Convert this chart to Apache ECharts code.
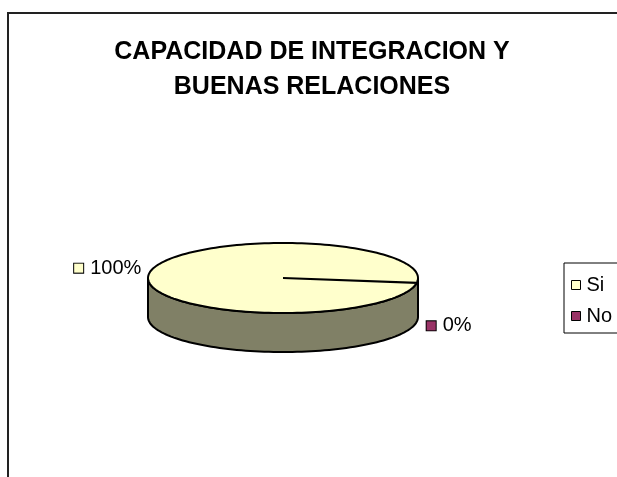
<!DOCTYPE html>
<html>
<head>
<meta charset="utf-8">
<script src="https://cdn.jsdelivr.net/npm/echarts@6/dist/echarts.min.js"></script>
<style>
  html, body { margin: 0; padding: 0; background: #fff; }
  #main { width: 617px; height: 477px; }
</style>
</head>
<body>
<div id="main"></div>
<script>
// datos del grafico
const categories = ['Si', 'No'];
const values = [100, 0];
const colors = ['#FFFFCC', '#993366'];
const sideColors = ['#808066', '#4D1A33'];

// geometria del pastel 3d (elipse)
const CX = 283, CY = 278, RX = 135, RY = 35, DEPTH = 39, START = 8;
const FONT = 'Liberation Sans, Arial, sans-serif';

const total = values.reduce((a, b) => a + b, 0);
const rad = d => d * Math.PI / 180;
const pt = (deg, dy) => [CX + RX * Math.cos(rad(deg)), CY + RY * Math.sin(rad(deg)) + (dy || 0)];

const arc = (a, b, dy) => {
    let pts = [];
    let n = Math.max(2, Math.ceil(Math.abs(b - a) / 2));
    for (let i = 0; i <= n; i++) {
        pts.push(pt(a + (b - a) * i / n, dy));
    }
    return pts;
};

// partes frontales visibles del lateral
const frontPieces = (a0, a1) => {
    if (a1 - a0 >= 360) return [[0, 180]];
    let out = [];
    [-360, 0, 360].forEach(k => {
        let s = Math.max(a0, k), e = Math.min(a1, k + 180);
        if (e > s) out.push([s, e]);
    });
    return out;
};

const renderItem = (params, api) => {
    let idx = params.seriesIndex;
    let v = api.value(0);
    let before = values.slice(0, idx).reduce((a, b) => a + b, 0);
    let a0 = START + before / total * 360;
    let a1 = a0 + v / total * 360;
    let children = [];
    if (v > 0) {
        frontPieces(a0, a1).forEach(([s, e]) => {
            let pts = arc(s, e, 0).concat(arc(e, s, DEPTH));
            children.push({
                type: 'polygon',
                shape: {points: pts},
                style: {fill: sideColors[idx], stroke: '#000', lineWidth: 2}
            });
        });
        children.push({
            type: 'polygon',
            shape: {points: [[CX, CY]].concat(arc(a0, a1, 0))},
            style: {fill: colors[idx], stroke: '#000', lineWidth: 2}
        });
    }
    // etiqueta
    let mid = (a0 + a1) / 2;
    let front = Math.sin(rad(mid)) > 0;
    let p = pt(mid, front ? DEPTH : 0);
    let left = Math.cos(rad(mid)) < 0;
    let pct = Math.round(v / total * 100) + '%';
    children.push({
        type: 'text',
        style: {
            text: '{sq|}{g|}{t|' + pct + '}',
            x: left ? p[0] - 8 : p[0] + 10,
            y: front ? p[1] + 4 : p[1] - 5,
            align: left ? 'right' : 'left',
            verticalAlign: 'middle',
            rich: {
                sq: {width: 9, height: 9, backgroundColor: colors[idx], borderColor: '#000', borderWidth: 1},
                g: {width: 7},
                t: {fontSize: 20, fontFamily: FONT, color: '#000'}
            }
        }
    });
    return {type: 'group', children: children};
};

const chart = echarts.init(document.getElementById('main'));
chart.setOption({
    animation: false,
    backgroundColor: '#fff',
    title: {
        text: 'CAPACIDAD DE INTEGRACION Y\nBUENAS RELACIONES',
        left: 307,
        textAlign: 'center',
        top: 30,
        textStyle: {fontFamily: FONT, fontWeight: 'bold', fontSize: 25, lineHeight: 35, color: '#000'}
    },
    legend: {
        orient: 'vertical',
        left: 564,
        top: 263,
        data: categories,
        icon: 'rect',
        itemWidth: 9,
        itemHeight: 9,
        itemGap: 11,
        padding: [12, 8, 7, 7],
        borderColor: '#000',
        borderWidth: 1,
        itemStyle: {borderColor: '#000', borderWidth: 1},
        textStyle: {fontFamily: FONT, fontSize: 20, lineHeight: 20, color: '#000', padding: [0, 0, 0, 1]}
    },
    graphic: [{
        type: 'rect',
        shape: {x: 8, y: 13, width: 700, height: 600},
        style: {fill: 'none', stroke: '#222', lineWidth: 2},
        silent: true
    }],
    series: categories.map((name, i) => ({
        type: 'custom',
        name: name,
        coordinateSystem: 'none',
        itemStyle: {color: colors[i]},
        renderItem: renderItem,
        data: [values[i]]
    }))
});
</script>
</body>
</html>
